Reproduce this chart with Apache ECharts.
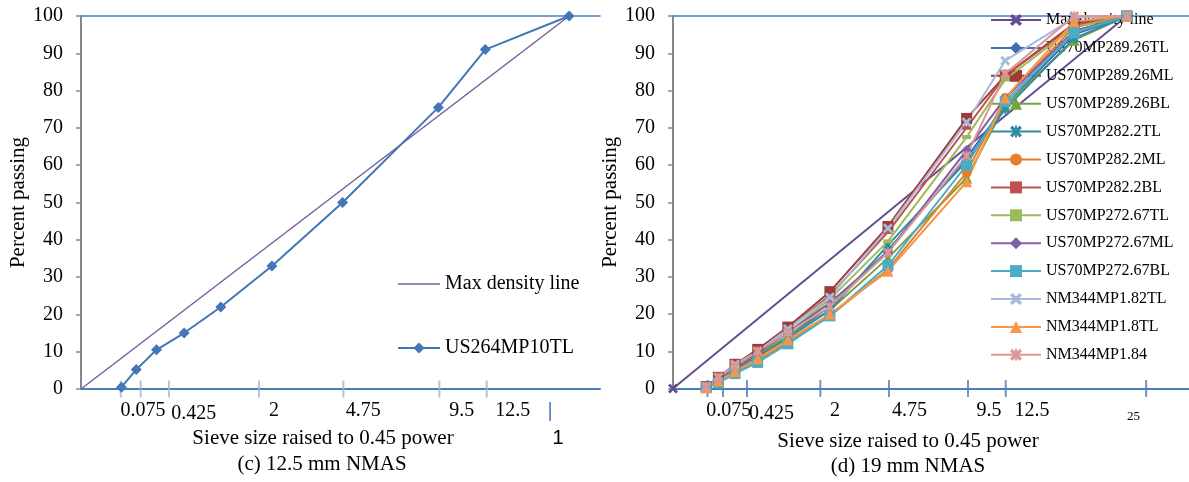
<!DOCTYPE html>
<html><head><meta charset="utf-8">
<script src="https://cdn.jsdelivr.net/npm/echarts@6/dist/echarts.min.js"></script>
<style>html,body{margin:0;padding:0;background:#fff}#c{width:1189px;height:482px}</style>
</head><body><div id="c"></div><script>
// ---------- DATA ----------
const POWER = 0.45;
// panel (c) 12.5 mm NMAS
const sievesC = [0.075, 0.15, 0.3, 0.6, 1.18, 2.36, 4.75, 9.5, 12.5, 19];
const us264mp10tl = [0.5, 5.2, 10.5, 15, 22, 33, 50, 75.5, 91, 100];
const maxDensityC = [[0, 0], [19, 100]];
// panel (d) 19 mm NMAS
const sievesD = [0.075, 0.15, 0.3, 0.6, 1.18, 2.36, 4.75, 9.5, 12.5, 19, 25];
const maxDensityD = [[0, 0], [25, 100]];
const us70mp289_26TL = [0.3, 2.5, 5.5, 9, 14, 22, 37, 62, 76, 95, 100];
const us70mp289_26ML = [0.5, 3, 6.5, 10.5, 16.5, 26, 43.5, 72.5, 84, 98, 100];
const us70mp289_26BL = [0.3, 2.5, 5.5, 9, 14, 21, 35, 56.5, 76, 93.5, 100];
const us70mp282_2TL = [0.2, 2, 5, 8.5, 13.5, 21, 38.5, 61, 75, 94, 100];
const us70mp282_2ML = [0.2, 2, 4.5, 7.5, 12.5, 19.5, 32, 58, 78, 97, 100];
const us70mp282_2BL = [0.3, 2.5, 6, 10, 16, 25, 42, 70, 84, 97.5, 100];
const us70mp272_67TL = [0.3, 2.5, 6, 9.5, 15, 24, 39.5, 67.5, 83, 97, 100];
const us70mp272_67ML = [0.3, 2.5, 5.5, 9.5, 15, 23, 36.5, 64, 78, 96, 100];
const us70mp272_67BL = [0.2, 1.5, 4, 7, 12, 19.5, 33, 60, 77, 95.5, 100];
const nm344mp1_82TL = [0.5, 3, 6.5, 10, 16, 24.5, 43, 71.5, 88, 99.5, 100];
const nm344mp1_8TL = [0.3, 2, 4.5, 8, 13, 20, 31.5, 55.5, 78, 98.5, 100];
const nm344mp1_84 = [0.5, 3, 6, 10, 15, 22, 36.5, 62.5, 84.5, 100, 100];
// tick marks and tick labels (positions on the 0.45-power axis)
const tickPosC = [0.306, 0.46, 0.678, 1.372, 2.022, 2.762, 3.127];
const labelTextC = ['0.075', '0.425', '2', '4.75', '9.5', '12.5', '|'];
const labelPosC = [0.478, 0.869, 1.487, 2.176, 2.934, 3.328, 3.615];
const tickPosD = [0.323, 0.469, 0.694, 1.382, 2.026, 2.767, 3.121, 4.438];
const labelTextD = ['0.075', '0.425', '2', '4.75', '9.5', '12.5', '25'];
const labelPosD = [0.522, 0.923, 1.519, 2.219, 2.965, 3.368, 4.320];

// ---------- STYLE ----------
const SERIF = 'Liberation Serif';
const pw = s => Math.pow(s, POWER);
const X_PATH = 'path://M2,0 L5,3 L8,0 L10,2 L7,5 L10,8 L8,10 L5,7 L2,10 L0,8 L3,5 L0,2 Z';
const STAR_PATH = 'path://M2,0 L5,3 L8,0 L10,2 L7,5 L10,8 L8,10 L5,7 L2,10 L0,8 L3,5 L0,2 Z M4.2,0 L5.8,0 L5.8,10 L4.2,10 Z';
const LINE_ICON = 'path://M0,0 L42,0 L42,1.5 L0,1.5 Z';

const seriesD = [
  {name: 'US70MP289.26TL', values: us70mp289_26TL},
  {name: 'US70MP289.26ML', values: us70mp289_26ML},
  {name: 'US70MP289.26BL', values: us70mp289_26BL},
  {name: 'US70MP282.2TL', values: us70mp282_2TL},
  {name: 'US70MP282.2ML', values: us70mp282_2ML},
  {name: 'US70MP282.2BL', values: us70mp282_2BL},
  {name: 'US70MP272.67TL', values: us70mp272_67TL},
  {name: 'US70MP272.67ML', values: us70mp272_67ML},
  {name: 'US70MP272.67BL', values: us70mp272_67BL},
  {name: 'NM344MP1.82TL', values: nm344mp1_82TL},
  {name: 'NM344MP1.8TL', values: nm344mp1_8TL},
  {name: 'NM344MP1.84', values: nm344mp1_84}
];
const stylesD = [
  {color: '#3E6DB0', symbol: 'diamond', size: 10},
  {color: '#A03A37', symbol: 'rect', size: 11},
  {color: '#78A33C', symbol: 'triangle', size: 11},
  {color: '#2E8CA6', symbol: STAR_PATH, size: 10},
  {color: '#E2802F', symbol: 'circle', size: 10},
  {color: '#C0504D', symbol: 'rect', size: [9, 4]},
  {color: '#9BBB59', symbol: 'rect', size: [9, 4]},
  {color: '#7F5FA8', symbol: 'diamond', size: 10},
  {color: '#4BACC6', symbol: 'rect', size: 11},
  {color: '#A7B9DC', symbol: X_PATH, size: 10},
  {color: '#F79646', symbol: 'triangle', size: 11},
  {color: '#D99795', symbol: STAR_PATH, size: 10}
];

function yAxisCfg(grid) {
  return {
    gridIndex: grid, type: 'value', min: 0, max: 100, interval: 10,
    name: 'Percent passing', nameLocation: 'middle', nameGap: 52, nameRotate: 90,
    nameTextStyle: {fontFamily: SERIF, fontSize: 21, color: '#000'},
    axisLine: {show: true, lineStyle: {color: '#868686', width: 2}},
    axisTick: {show: true, length: 5, lineStyle: {color: '#868686', width: 1.5}},
    axisLabel: {fontFamily: SERIF, fontSize: 20, color: '#000', margin: 18},
    splitLine: {show: false}
  };
}
// separate axes for the '0.425' label avoid automatic overlap hiding
function xAxisCfg(grid, max, labelPos, labelText, wantLow, showLine, margin) {
  const vals = labelPos.filter((p, i) => (labelText[i] === '0.425') === wantLow);
  return {
    gridIndex: grid, type: 'value', min: 0, max: max, position: 'bottom',
    axisLine: {show: showLine, onZero: false, lineStyle: {color: '#4A7EBB', width: 2}},
    axisTick: {show: false},
    splitLine: {show: false},
    axisLabel: {
      show: true, customValues: vals, margin: margin, hideOverlap: false,
      showMinLabel: true, showMaxLabel: true,
      fontFamily: SERIF, fontSize: 20, color: '#000',
      formatter: function (v) {
        let best = 0, d = 1e9;
        labelPos.forEach((p, i) => { if (Math.abs(p - v) < d) { d = Math.abs(p - v); best = i; } });
        const t = labelText[best];
        if (t === '|') return '{bar||}';
        if (t === '25') return '{small|25}';
        return t;
      },
      rich: {
        bar: {color: '#4A7EBB', fontSize: 20, fontFamily: 'Liberation Sans'},
        small: {fontSize: 13, fontFamily: SERIF, color: '#000', padding: [10, 0, 0, 0]}
      }
    }
  };
}
function topAxisCfg(grid, max) {
  return {
    gridIndex: grid, type: 'value', min: 0, max: max, position: 'top',
    axisLine: {show: true, onZero: false, lineStyle: {color: '#4A7EBB', width: 1.5}},
    axisTick: {show: false}, axisLabel: {show: false}, splitLine: {show: false}
  };
}

const series = [];
// panel c
series.push({
  name: 'Max density line', type: 'line', xAxisIndex: 0, yAxisIndex: 0,
  data: maxDensityC.map(p => [pw(p[0]), p[1]]), symbol: 'none',
  lineStyle: {color: '#7B5C9E', width: 1.5}, itemStyle: {color: '#7B5C9E'}, z: 3
});
series.push({
  name: 'US264MP10TL', type: 'line', xAxisIndex: 0, yAxisIndex: 0,
  data: sievesC.map((s, i) => [pw(s), us264mp10tl[i]]),
  symbol: 'diamond', symbolSize: 11,
  lineStyle: {color: '#4376B8', width: 2}, itemStyle: {color: '#4376B8'}, z: 4
});
series.push({
  type: 'scatter', xAxisIndex: 0, yAxisIndex: 0, silent: true,
  data: tickPosC.map(p => [p, 0]), symbol: 'rect', symbolSize: [2, 17],
  itemStyle: {color: '#9DB5D8'}, z: 2
});
// panel d
series.push({
  name: 'Max density line ', type: 'line', xAxisIndex: 3, yAxisIndex: 1,
  data: maxDensityD.map(p => [pw(p[0]), p[1]]), symbol: X_PATH, symbolSize: 10,
  lineStyle: {color: '#654C91', width: 2}, itemStyle: {color: '#654C91'}, z: 3
});
seriesD.forEach((s, k) => {
  const st = stylesD[k];
  series.push({
    name: s.name, type: 'line', xAxisIndex: 3, yAxisIndex: 1,
    data: sievesD.map((sv, i) => [pw(sv), s.values[i]]),
    symbol: st.symbol, symbolSize: st.size,
    lineStyle: {color: st.color, width: 2}, itemStyle: {color: st.color}, z: 4
  });
});
series.push({
  type: 'scatter', xAxisIndex: 3, yAxisIndex: 1, silent: true,
  data: tickPosD.map(p => [p, 0]), symbol: 'rect', symbolSize: [2, 17],
  itemStyle: {color: '#4A7EBB'}, z: 2
});

const chart = echarts.init(document.getElementById('c'), null, {renderer: 'canvas'});
chart.setOption({
  animation: false,
  backgroundColor: '#fff',
  grid: [
    {left: 81, top: 16, width: 519, height: 373},
    {left: 673, top: 16, width: 516, height: 372.5}
  ],
  xAxis: [
    xAxisCfg(0, 4, labelPosC, labelTextC, false, true, 12),
    xAxisCfg(0, 4, labelPosC, labelTextC, true, false, 15),
    topAxisCfg(0, 4),
    xAxisCfg(1, 4.84, labelPosD, labelTextD, false, true, 12),
    xAxisCfg(1, 4.84, labelPosD, labelTextD, true, false, 15),
    topAxisCfg(1, 4.84)
  ],
  yAxis: [yAxisCfg(0), yAxisCfg(1)],
  legend: [
    {
      data: [{name: 'Max density line', icon: LINE_ICON}, 'US264MP10TL'], orient: 'vertical',
      left: 392, top: 268, itemWidth: 42, itemHeight: 14, itemGap: 42,
      textStyle: {fontFamily: SERIF, fontSize: 20, color: '#000', lineHeight: 22}
    },
    {
      data: ['Max density line '].concat(seriesD.map(s => s.name)), orient: 'vertical',
      left: 985, top: 6, itemWidth: 50, itemHeight: 15, itemGap: 9.9,
      textStyle: {fontFamily: SERIF, fontSize: 16, color: '#000', lineHeight: 18}
    }
  ],
  graphic: [
    {type: 'text', x: 323, y: 438, style: {text: 'Sieve size raised to 0.45 power', font: '21px "Liberation Serif"', fill: '#000', align: 'center', verticalAlign: 'middle'}},
    {type: 'text', x: 322, y: 464, style: {text: '(c) 12.5 mm NMAS', font: '21px "Liberation Serif"', fill: '#000', align: 'center', verticalAlign: 'middle'}},
    {type: 'text', x: 558, y: 438, style: {text: '1', font: '20px "Liberation Sans"', fill: '#000', align: 'center', verticalAlign: 'middle'}},
    {type: 'text', x: 908, y: 441, style: {text: 'Sieve size raised to 0.45 power', font: '21px "Liberation Serif"', fill: '#000', align: 'center', verticalAlign: 'middle'}},
    {type: 'text', x: 908, y: 466, style: {text: '(d) 19 mm NMAS', font: '21px "Liberation Serif"', fill: '#000', align: 'center', verticalAlign: 'middle'}}
  ],
  series: series
});
</script></body></html>
